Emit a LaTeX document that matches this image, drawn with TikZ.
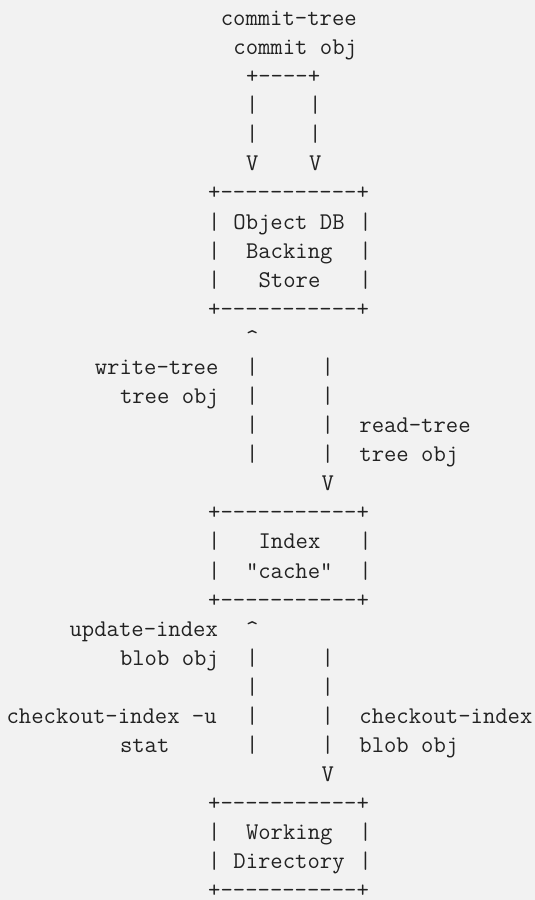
\documentclass[tikz,border=0pt]{standalone}
\usepackage{fontspec}
\setmonofont{Latin Modern Mono}
\definecolor{bg}{HTML}{F2F2F2}
\definecolor{ink}{HTML}{222222}
\newcommand\Dh{-\kern0pt}
\newcommand\Bar{\Dh\Dh\Dh\Dh\Dh\Dh\Dh\Dh\Dh\Dh\Dh}
\begin{document}
\begin{tikzpicture}[
  x=6.3pt, y=-14.54pt,
  asc/.style={anchor=base west, inner sep=0pt, outer sep=0pt, text=ink,
    font=\fontsize{12}{14.6}\selectfont\ttfamily},
  boxedge/.style={asc},
  lbl/.style={asc}
]
\fill[bg] (-3.3pt,12.75pt) rectangle ++(267.5pt,-450pt);
\useasboundingbox (-3.3pt,12.75pt) rectangle ++(267.5pt,-450pt);
% top: commit-tree
\node[lbl] (ct1) at (17,0) {commit-tree};
\node[lbl] (ct2) at (18,1) {commit obj};
\node[asc] (ctp) at (19,2) {+\Dh\Dh\Dh\Dh+};
\node[asc] (a3l) at (19,3) {|};  \node[asc] (a3r) at (24,3) {|};
\node[asc] (a4l) at (19,4) {|};  \node[asc] (a4r) at (24,4) {|};
\node[asc] (a5l) at (19,5) {V};  \node[asc] (a5r) at (24,5) {V};
% Object DB box
\node[boxedge] (db0) at (16,6) {+\Bar+};
\node[boxedge] (db1l) at (16,7) {|}; \node[asc] (db1) at (18,7) {Object DB}; \node[boxedge] (db1r) at (28,7) {|};
\node[boxedge] (db2l) at (16,8) {|}; \node[asc] (db2) at (19,8) {Backing};   \node[boxedge] (db2r) at (28,8) {|};
\node[boxedge] (db3l) at (16,9) {|}; \node[asc] (db3) at (20,9) {Store};     \node[boxedge] (db3r) at (28,9) {|};
\node[boxedge] (db4) at (16,10) {+\Bar+};
% write-tree / read-tree
\node[asc] (up1) at (19,11) {\textasciicircum};
\node[lbl] (wt1) at (7,12) {write-tree}; \node[asc] (b12l) at (19,12) {|}; \node[asc] (b12r) at (25,12) {|};
\node[lbl] (wt2) at (9,13) {tree obj};   \node[asc] (b13l) at (19,13) {|}; \node[asc] (b13r) at (25,13) {|};
\node[asc] (b14l) at (19,14) {|}; \node[asc] (b14r) at (25,14) {|}; \node[lbl] (rt1) at (28,14) {read-tree};
\node[asc] (b15l) at (19,15) {|}; \node[asc] (b15r) at (25,15) {|}; \node[lbl] (rt2) at (28,15) {tree obj};
\node[asc] (dn1) at (25,16) {V};
% Index box
\node[boxedge] (ix0) at (16,17) {+\Bar+};
\node[boxedge] (ix1l) at (16,18) {|}; \node[asc] (ix1) at (20,18) {Index};     \node[boxedge] (ix1r) at (28,18) {|};
\node[boxedge] (ix2l) at (16,19) {|}; \node[asc] (ix2) at (19,19) {"cache"};   \node[boxedge] (ix2r) at (28,19) {|};
\node[boxedge] (ix3) at (16,20) {+\Bar+};
% update-index / checkout-index
\node[lbl] (ui1) at (5,21) {update-index}; \node[asc] (up2) at (19,21) {\textasciicircum};
\node[lbl] (ui2) at (9,22) {blob obj}; \node[asc] (c22l) at (19,22) {|}; \node[asc] (c22r) at (25,22) {|};
\node[asc] (c23l) at (19,23) {|}; \node[asc] (c23r) at (25,23) {|};
\node[lbl] (co1) at (0,24) {checkout-index -u}; \node[asc] (c24l) at (19,24) {|}; \node[asc] (c24r) at (25,24) {|}; \node[lbl] (ci1) at (28,24) {checkout-index};
\node[lbl] (co2) at (9,25) {stat}; \node[asc] (c25l) at (19,25) {|}; \node[asc] (c25r) at (25,25) {|}; \node[lbl] (ci2) at (28,25) {blob obj};
\node[asc] (dn2) at (25,26) {V};
% Working Directory box
\node[boxedge] (wd0) at (16,27) {+\Bar+};
\node[boxedge] (wd1l) at (16,28) {|}; \node[asc] (wd1) at (19,28) {Working};   \node[boxedge] (wd1r) at (28,28) {|};
\node[boxedge] (wd2l) at (16,29) {|}; \node[asc] (wd2) at (18,29) {Directory}; \node[boxedge] (wd2r) at (28,29) {|};
\node[boxedge] (wd3) at (16,30) {+\Bar+};
\end{tikzpicture}
\end{document}
